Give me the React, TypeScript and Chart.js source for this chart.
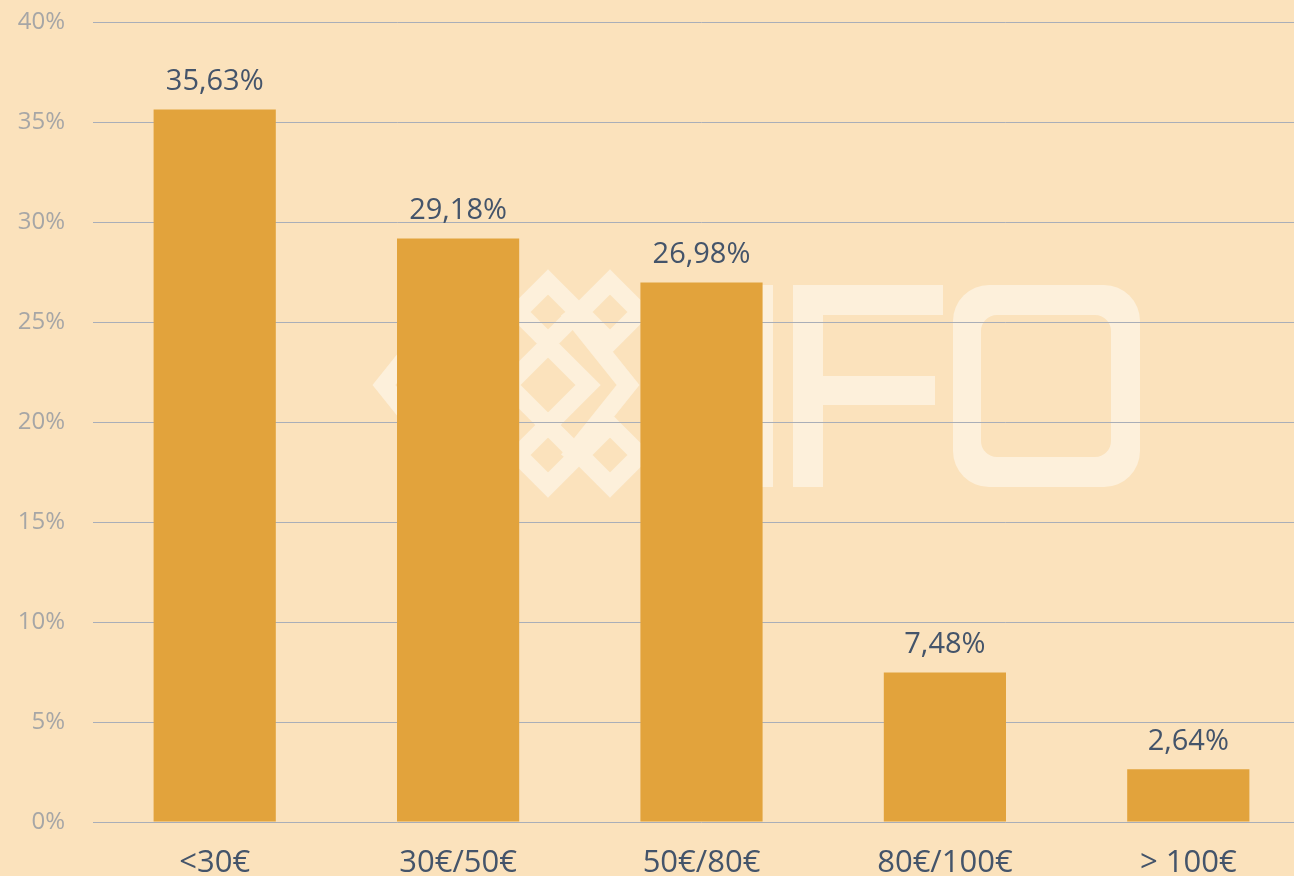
import React, { useEffect, useRef } from "react";
import { Chart, registerables } from "chart.js";

Chart.register(...registerables);

const categories = ["<30€", "30€/50€", "50€/80€", "80€/100€", "> 100€"];
const shares = [35.63, 29.18, 26.98, 7.48, 2.64];
const yTickMax = 40;
const yTickStep = 5;

const BG = "#FBE2BC";
const BAR = "#E2A33C";
const DARK = "#44546A";
const GREY = "#A6A6A6";
const WM = "#FDF0DB";
const FONT = "'Open Sans', 'Noto Sans', sans-serif";

const fmt = (v: number) => v.toFixed(2).replace(".", ",") + "%";

const backgroundPlugin = {
  id: "bgWatermark",
  beforeDraw(chart: any) {
    const { ctx, width, height } = chart;
    ctx.save();
    ctx.fillStyle = BG;
    ctx.fillRect(0, 0, width, height);
    // watermark (decorative)
    ctx.fillStyle = WM;
    ctx.strokeStyle = WM;
    // I
    ctx.fillRect(743, 285, 30, 202);
    // F
    ctx.fillRect(793, 285, 30, 202);
    ctx.fillRect(793, 285, 150, 30);
    ctx.fillRect(793, 376, 142, 29);
    // O
    ctx.beginPath();
    (ctx as any).roundRect(953, 285, 187, 202, 36);
    (ctx as any).roundRect(981, 315, 130, 142, 16);
    ctx.fill("evenodd");
    // logo
    const cx = 506, cy = 385;
    ctx.lineWidth = 18;
    ctx.lineJoin = "miter";
    const diamond = (x: number, y: number, h: number) => {
      ctx.beginPath();
      ctx.moveTo(x, y - h);
      ctx.lineTo(x + h, y);
      ctx.lineTo(x, y + h);
      ctx.lineTo(x - h, y);
      ctx.closePath();
      ctx.stroke();
    };
    diamond(cx + 42, cy - 73, 30);
    diamond(cx + 104, cy - 73, 30);
    diamond(cx + 42, cy + 70, 30);
    diamond(cx + 104, cy + 70, 30);
    diamond(cx + 42, cy, 40);
    ctx.beginPath();
    ctx.moveTo(cx + 62, cy - 75);
    ctx.lineTo(cx + 122, cy);
    ctx.lineTo(cx + 62, cy + 75);
    ctx.stroke();
    ctx.beginPath();
    ctx.moveTo(cx - 82, cy - 50);
    ctx.lineTo(cx - 122, cy);
    ctx.lineTo(cx - 82, cy + 50);
    ctx.stroke();
    ctx.restore();
  },
};

const labelPlugin = {
  id: "valueLabels",
  afterDatasetsDraw(chart: any) {
    const { ctx } = chart;
    const meta = chart.getDatasetMeta(0);
    ctx.save();
    ctx.fillStyle = DARK;
    ctx.font = `29px ${FONT}`;
    ctx.textAlign = "center";
    ctx.textBaseline = "alphabetic";
    meta.data.forEach((bar: any, i: number) => {
      ctx.fillText(fmt(shares[i]), bar.x, bar.y - 19);
    });
    ctx.restore();
  },
};

export default function App() {
  const ref = useRef<HTMLCanvasElement | null>(null);
  useEffect(() => {
    document.body.style.margin = "0";
    const chart = new Chart(ref.current as HTMLCanvasElement, {
      type: "bar",
      data: {
        labels: categories,
        datasets: [
          {
            data: shares,
            backgroundColor: BAR,
            borderWidth: 0,
            barPercentage: 0.502,
            categoryPercentage: 1,
          },
        ],
      },
      options: {
        animation: false,
        responsive: true,
        maintainAspectRatio: false,
        layout: { padding: { top: 22, left: 0, right: 0, bottom: 0 } },
        plugins: { legend: { display: false }, tooltip: { enabled: false } },
        scales: {
          x: {
            grid: { display: false },
            border: { display: false },
            ticks: {
              color: DARK,
              font: { family: FONT, size: 31 },
              padding: 15,
              maxRotation: 0,
            },
            afterFit: (s: any) => {
              s.height = 54;
              s.paddingTop = 0;
              s.paddingBottom = 0;
            },
          },
          y: {
            min: 0,
            max: yTickMax,
            grid: { color: "#A9AEB8", lineWidth: 1, drawTicks: false },
            border: { display: false },
            ticks: {
              stepSize: yTickStep,
              color: GREY,
              font: { family: FONT, size: 24 },
              padding: 28,
              callback: (v: any) => v + "%",
            },
            afterFit: (s: any) => {
              s.width = 93;
              s.paddingTop = 0;
              s.paddingBottom = 0;
            },
          },
        },
      },
      plugins: [backgroundPlugin, labelPlugin],
    });
    return () => chart.destroy();
  }, []);
  return (
    <div style={{ position: "fixed", left: 0, top: 0, width: 1294, height: 876, background: BG, overflow: "hidden" }}>
      <div style={{ position: "relative", width: 1310, height: 876 }}>
        <canvas ref={ref} />
      </div>
    </div>
  );
}
